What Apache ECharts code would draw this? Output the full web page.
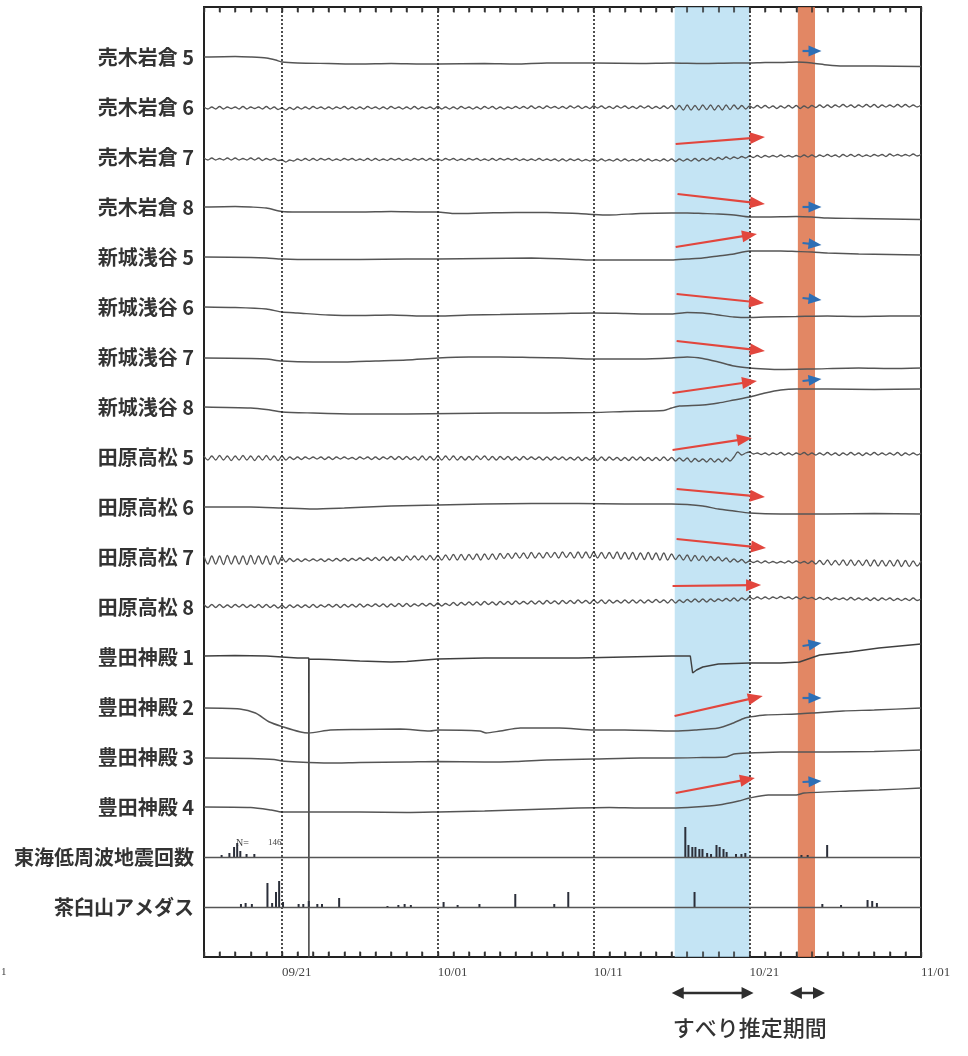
<!DOCTYPE html>
<html><head><meta charset="utf-8">
<script src="https://cdn.jsdelivr.net/npm/echarts@6/dist/echarts.min.js"></script>
<style>html,body{margin:0;padding:0;background:#fff}#c{width:968px;height:1056px}</style>
</head><body><div id="c"></div>
<script>
// ---------- categories / ticks ----------
const rowNames = ['売木岩倉 5','売木岩倉 6','売木岩倉 7','売木岩倉 8','新城浅谷 5','新城浅谷 6','新城浅谷 7','新城浅谷 8','田原高松 5','田原高松 6','田原高松 7','田原高松 8','豊田神殿 1','豊田神殿 2','豊田神殿 3','豊田神殿 4','東海低周波地震回数','茶臼山アメダス'];
const tickDays = [5, 15, 25, 35, 46];            // days since 09/16
const tickLabels = ['09/21', '10/01', '10/11', '10/21', '11/01'];
const gridDays = [5, 15, 25, 35];                // dotted lines
const blueBand = [30.2, 35.0];
const orangeBand = [38.1, 39.2];

// ---------- smooth traces: [day, deflection (down +)] ----------
const ugi5 = [[0,0],[2,-0.5],[3,0],[4,1],[4.6,3],[5,5],[6,6],[8,6.5],[10,7],[12,6.5],[14,7],[15,7],[18,6.5],[20,7],[22,6],[25,6],[28,6.5],[30,6],[32,6.5],[34,6],[35,6],[36,5.5],[37,5.5],[38,5],[39,6],[40,8],[41,9],[43,9],[46,9.5]];
const ugi8 = [[0,0],[2,-0.5],[3,0],[4,1],[5,4.5],[6,5],[8,5],[10,5],[12,4.5],[14,5],[15,5],[16,6.5],[18,6],[20,5.5],[22,5.5],[24,6.5],[25,7.5],[26,8],[28,6.5],[30,6],[31,6],[32,6.5],[33,7],[34,8],[35,10],[36,10],[38,9.5],[39,10],[40,11],[42,11.5],[44,12],[46,12.5]];
const shin5 = [[0,0],[3,0.5],[4,1],[5,2],[7,2.5],[10,2.5],[13,2],[15,2],[18,1.5],[21,1],[24,2.5],[25,3],[28,3],[30,3],[31,2],[32,1],[33,-1],[34,-3],[35,-6],[37,-6],[38,-5.5],[39,-5],[40,-4],[42,-3],[44,-2.5],[46,-2]];
const shin6 = [[0,0],[2,0.5],[4,2],[5,5],[6,6],[8,8],[10,8.5],[12,8],[14,9],[15,9],[17,8],[19,7.5],[21,7],[23,6.5],[25,6],[27,6.5],[29,7],[30,7],[31,5.5],[32,6],[33,8],[34,10],[35,10.5],[36,10],[38,9.5],[40,9],[42,9.5],[44,9],[46,9]];
const shin7 = [[0,1],[3,1.5],[4,2],[5,4],[7,5],[9,5],[11,4],[13,3],[15,1],[17,0],[19,0],[21,0.5],[23,1],[25,2],[28,2],[30,1],[31,0],[32,1.5],[33,5],[34,9],[35,11],[36,12],[37,12.5],[39,12],[42,11],[44,11.5],[46,11]];
const shin8 = [[0,0],[3,1],[4,2.5],[5,5],[7,6],[10,7],[13,7],[16,6.5],[19,6],[22,6],[25,5.5],[27,4.5],[29.5,3.5],[30,1],[30.5,-1],[32,-2],[33,-4],[34,-7],[35,-10],[36,-14],[37,-17],[38,-18],[40,-18],[43,-17.5],[46,-18]];
const taha6 = [[0,0],[3,0],[5,1],[7,2],[9,1],[12,-1],[15,-2],[18,-3],[21,-3.5],[24,-3.5],[27,-3],[30,-3],[31,-2.5],[32,-1],[33,2],[34,4],[35,6],[37,7],[40,7],[43,6.5],[46,7]];
const toyo1 = [[0,-1],[2,-1.5],[4,-1],[5,0],[6,1],[6.72,1],[6.73,400],[6.74,2],[8,2.5],[10,4],[12,5],[13,4.5],[15,2],[18,1],[21,1],[24,1],[27,0],[30,-1],[31.2,-1],[31.35,16],[31.6,13],[32,10],[33,7],[35,6],[37,6],[38.2,5],[39.5,-2],[41.4,-5],[43.3,-9],[46,-13]];
const toyo2 = [[0,1],[2.3,2],[3.3,6],[4.2,15],[5.1,20],[6.2,25],[6.7,26],[8.1,23],[10,22.5],[12.6,22],[14.5,24],[15,23],[17.7,24],[18.1,26],[19,24],[20.3,21],[22.8,21],[25,23],[27,23],[30.2,24],[31.5,23],[33,21],[33.8,17],[34.7,11],[35,10],[36,8],[38,7],[39,6],[41,4],[43,3],[46,1]];
const toyo3 = [[0,1],[3,1.5],[4.5,2.5],[5,4],[6,5],[8,6],[10,5.5],[13,5],[15,4.5],[18,5],[20,4.5],[22,3],[25,2],[28,1],[30,1],[32,0.5],[33.5,0],[34,-3],[35,-4],[37,-5],[40,-5],[43,-5.5],[46,-7]];
const toyo4 = [[0,0],[3,0.5],[4.3,3],[5,5],[7,5],[10,5],[13,5.5],[15,5],[18,4],[21,2.5],[24,1],[26,0.5],[28,1],[30,1],[31.5,0],[33,-2],[34.3,-6],[35,-9],[36.2,-12],[38,-12],[38.5,-14],[41.4,-16],[43.3,-17],[46,-19]];

// ---------- tidal (wavy) traces, every 6 hours from 09/16 ----------
const ugi6 = [0,2,0,2, -0.5,2,0,1.5, 0,2,-0.5,2, 0,1.5,0,2, -0.5,2,0,2.5, 1,3,0.5,2.5, 0,2,0,2, -0.5,1.5,0,2, 0,2,0,1.5, -0.5,2,0,2,
 0,2,-0.5,1.5, 0,2,0,2, -0.5,1.5,0,2, 0,2,-0.5,2, 0,1.5,0,2, -0.5,2,0,2, 0,2,-0.5,1.5, 0,2,0,2, -0.5,1.5,-0.5,2, 0,2,0,1.5,
 -0.5,1.5,-0.5,1.5, -1,1.5,-0.5,1.5, -1,1,-0.5,1.5, -0.5,1.5,-1,1, -1,1.5,-0.5,1.5, -1,1,-1,1.5, -0.5,1.5,-1,1, -1,1.5,-0.5,1.5, -1,1,-1,1.5, -0.5,1.5,-1,1.5,
 -1.5,2.5,-1.5,3, -2,3,-1.5,3, -2,2.5,-2,3, -1.5,3,-2,2.5, -2,2,-1.5,2, -1,1,-1.5,1, -1.5,1,-1,1.5, -1,1,-1.5,1, -1.5,1.5,-1,1, -1.5,0.5,-2,0.5,
 -2,0.5,-2,0, -2.5,0,-2,0.5, -2,0,-2.5,0, -2.5,0.5,-2,0, -2,0,-2.5,0, -2.5,0,-2,0, -2];
const ugi7 = [1,3,1,3, 1.5,3,1,3, 1,3,1.5,3, 1,3,1,3.5, 1.5,3,1.5,3.5, 3,5,3,4, 2,3.5,1.5,3.5, 1.5,3.5,1.5,3, 1.5,3.5,2,3.5, 1.5,3,1.5,3.5,
 2,3.5,1.5,3.5, 1.5,3.5,2,3.5, 1.5,3,1.5,3.5, 2,3.5,1.5,3, 1.5,3.5,1.5,3.5, 2,3.5,1.5,3, 1.5,3.5,2,3.5, 1.5,3,1.5,3.5, 2,3.5,1.5,3.5, 1.5,3,1.5,3,
 1.5,3.5,2,3.5, 2,3.5,1.5,3.5, 2,3.5,2,4, 2,4,2,3.5, 2,4,2.5,4, 2,4,2,4, 2.5,4,2,4, 2,4,2.5,4, 2,4,2,4, 2.5,4,2,4,
 2,4.5,2,4, 2,4,1.5,4, 1.5,3.5,1,3, 0.5,2.5,0,2, 0,1.5,-0.5,1, -1,0.5,-1.5,0.5, -1.5,0,-1.5,0, -2,0,-1.5,0, -1.5,0,-2,0, -2,0,-2,-0.5,
 -2.5,-0.5,-2,0, -2.5,-0.5,-2.5,-0.5, -2.5,-0.5,-2,-0.5, -2.5,-1,-2.5,-0.5, -3,-1,-2.5,-1, -2.5,-1,-3,-1, -2.5];
const taha5 = [-1,3,-1,3, -1.5,3,-1,3.5, -1,3,-1.5,3, -1,3.5,-1,3, -1.5,3,-1,3.5, -1,3,0,2.5, 0,2.5,0,2, 0,2,0,2.5, 0,2.5,0,2, 0,2,0.5,2.5,
 0,2,0,2.5, 0,2.5,0,2, -0.5,2.5,-0.5,2.5, -0.5,2.5,0,3, -1,3,-0.5,3, -1,3,-1,3, -1,3,-0.5,3, -0.5,3,-1,2.5, -1,3,-0.5,3, -0.5,2.5,-0.5,3,
 0,3,-0.5,2.5, 0,2.5,0,3, 0,3,0,2.5, 0,3,0.5,3, 0,3.5,0.5,3, 0.5,3.5,0,3.5, 0,3,0.5,3.5, 0.5,3.5,0,3, 0,3.5,0.5,3.5, 0.5,3.5,0,3.5,
 0.5,4,1,4, 1,5,1.5,4.5, 2,5,1.5,5, 2,5,1,4, 0,-5,-2,-4, -5,-3,-4,-2.5, -4,-2,-4,-2.5, -4.5,-2,-4,-2, -4,-2.5,-4.5,-2, -4,-2,-4,-2,
 -4.5,-2,-4,-1.5, -4,-2,-4.5,-2, -4,-1.5,-4,-2, -4.5,-2,-4,-2, -4,-2,-4.5,-1.5, -4,-2,-4,-2, -4];
const taha7 = [-1,7,-1,7, -1,7.5,-1.5,7, -1,7,-1,7.5, -1.5,7,-1,7, -1,7.5,-1,7, 0,5,1.5,4.5, 2,4.5,2,4, 2,4,2,4.5, 2,4,1.5,4, 1.5,4,1.5,3.5,
 1,3.5,1,3.5, 0.5,3.5,0,3.5, 0,3.5,0,3.5, -1,3,-1,3, -1,3,-1.5,3, -1.5,3,-2,3, -2.5,3,-2.5,3, -2.5,2.5,-3,3, -3,2.5,-3,2.5, -3.5,1.5,-3.5,1.5,
 -4,1,-4,1.5, -4.5,1,-4,1, -4.5,0.5,-4.5,1, -5,0.5,-4.5,1, -5,1,-5,1, -5,1,-4.5,1.5, -4.5,1.5,-5,2, -4.5,2,-4.5,2.5, -4,2.5,-4.5,2.5, -4,3,-4,3,
 -3,2.5,-2,3, -2,4,-1.5,3.5, -1,4,-0.5,3.5, 0,4,1,5, 2,5,2.5,6, 4,5.5,4,6, 4,6,4.5,6, 4.5,6,4,6, 4,6,4.5,6.5, 4,7,3.5,7.5,
 3,8,3.5,8, 3,8.5,3,8.5, 3.5,8.5,3,9, 3,9,3.5,9, 3.5,9,3,9.5, 3.5,9.5,4,9, 4];
const taha8 = [-2.5,0.5,-2.5,0.5, -2.5,0.5,-2,0.5, -2.5,0,-2.5,0.5, -2,0.5,-2.5,0.5, -2.5,0.5,-2,1, -1.5,1,-2,0.5, -2,0.5,-2,0.5, -2.5,0.5,-2,0, -2.5,0,-2.5,0.5, -2.5,0,-2.5,0,
 -3,0,-2.5,-0.5, -3,-0.5,-3,0, -3,-0.5,-3.5,-0.5, -3.5,-0.5,-3,-1, -3.5,-1,-3.5,-1, -4,-1,-3.5,-1.5, -4.5,-1.5,-4.5,-2, -5,-2,-5,-2, -5.5,-2.5,-5,-2, -5.5,-2.5,-5.5,-2.5,
 -6,-3,-5.5,-3, -6,-3,-6,-3, -6.5,-3.5,-6,-3, -6.5,-3.5,-6.5,-3.5, -7,-4,-6.5,-3.5, -7,-4,-7,-3.5, -7,-4,-6.5,-4, -7,-4,-7,-4, -7,-4,-7,-4.5, -7.5,-4.5,-7,-4,
 -7.5,-4,-7,-4.5, -7.5,-5,-8,-5, -8,-5,-8,-5.5, -8,-6,-8.5,-6, -9,-6,-9,-7, -10,-8,-10,-8, -10,-8,-10,-8.5, -10.5,-8.5,-10,-8, -10,-8,-10,-8.5, -9.5,-7.5,-9.5,-7.5,
 -9.5,-7,-9,-7.5, -9,-7,-9.5,-7, -9,-7,-9,-6.5, -9,-6.5,-9,-7, -9,-6.5,-8.5,-6.5, -8.5,-6.5,-9,-6.5, -8];

// ---------- event counts / rainfall ----------
const lfeDays   = [1.2,1.7,2.0,2.2,2.4,2.8,3.3, 30.95,31.15,31.4,31.6,31.85,32.05,32.35,32.6,32.95,33.15,33.4,33.6,34.2,34.55,34.8, 38.4,38.8,40.05];
const lfeCounts = [2,4,10,14,6,3,3, 30,12,10,10,8,8,4,3,12,10,8,5,3,3,4, 2,2,12];
const rainDays   = [2.3,2.6,3.0,4.0,4.3,4.55,4.75,5.0,6.0,6.3,6.65,7.2,7.5,8.6,11.7,12.4,12.8,13.2,15.3,16.2,17.6,19.9,22.4,23.3,31.4,39.6,40.8,42.5,42.8,43.1];
const rainAmounts = [3,4,3,24,4,15,26,5,3,3,6,3,3,9,1,2,3,2,5,2,3,13,3,15,15,3,2,7,6,4];

// ---------- annotation arrows [day1, row1, day2, row2] ----------
const redArrows = [[30.26,1.74,35.96,1.60],[30.38,2.74,35.96,2.94],[30.26,3.80,35.45,3.54],[30.32,4.74,35.90,4.92],[30.32,5.68,35.96,5.88],[30.06,6.72,35.45,6.48],[30.06,7.86,35.13,7.62],[30.32,8.64,35.96,8.80],[30.32,9.64,36.03,9.82],[30.06,10.58,35.71,10.56],[30.19,13.18,35.83,12.78],[30.26,14.72,35.32,14.42]];
const blueArrows = [[38.4,-0.12,39.6,-0.12],[38.4,3.0,39.6,3.0],[38.4,3.72,39.6,3.76],[38.4,4.82,39.6,4.86],[38.4,6.48,39.6,6.44],[38.4,11.78,39.6,11.72],[38.4,12.82,39.6,12.82],[38.4,14.5,39.6,14.48]];

// ---------- build ----------
const SPAN = 50; // deflection units per row
const X_MIN = 0, X_MAX = 46, Y_MIN = -1, Y_MAX = 18;
const pairTraces = {0: ugi5, 3: ugi8, 4: shin5, 5: shin6, 6: shin7, 7: shin8, 9: taha6, 12: toyo1, 13: toyo2, 14: toyo3, 15: toyo4};
const tideTraces = {1: ugi6, 2: ugi7, 8: taha5, 10: taha7, 11: taha8};
const traceColor = '#555';
const series = [];
Object.keys(pairTraces).forEach(k => {
  const r = +k;
  series.push({type:'line', xAxisIndex:0, yAxisIndex:0, z:2, symbol:'none', clip:true, smooth: r === 12 ? false : 0.25,
    lineStyle:{color: r === 12 ? '#404040' : traceColor, width:1.45}, data: pairTraces[k].map(p => [p[0], r + p[1]/SPAN])});
});
Object.keys(tideTraces).forEach(k => {
  const r = +k;
  series.push({type:'line', xAxisIndex:0, yAxisIndex:0, z:2, symbol:'none', clip:true, smooth:0.35,
    lineStyle:{color:traceColor, width:1.3}, data: tideTraces[k].map((v,i) => [i/4, r + v/SPAN])});
});
// bands + dotted day lines
series.push({type:'line', xAxisIndex:0, yAxisIndex:0, z:3, data:[], silent:true,
  markArea:{silent:true, data:[
    [{xAxis:blueBand[0], itemStyle:{color:'rgba(180,220,241,0.78)'}}, {xAxis:blueBand[1]}],
    [{xAxis:orangeBand[0], itemStyle:{color:'rgba(222,118,78,0.88)'}}, {xAxis:orangeBand[1]}]
  ]}});
series.push({type:'line', xAxisIndex:0, yAxisIndex:0, z:5, data:[], silent:true,
  markLine:{silent:true, symbol:'none', label:{show:false},
    lineStyle:{color:'#222', width:1.6, type:[2,2]}, data: gridDays.map(d => ({xAxis:d}))}});
// inward day ticks on top and bottom frame (one per day)
const tickSegs = [];
for (let d = X_MIN; d <= X_MAX; d++) {
  tickSegs.push([{coord:[d, Y_MIN]}, {coord:[d, Y_MIN + 0.11]}]);
  tickSegs.push([{coord:[d, Y_MAX]}, {coord:[d, Y_MAX - 0.11]}]);
}
series.push({type:'line', xAxisIndex:0, yAxisIndex:0, z:7, data:[], silent:true,
  markLine:{silent:true, symbol:'none', label:{show:false},
    lineStyle:{color:'#333', width:1.5, type:'solid'}, data: tickSegs}});
// bars
series.push({type:'bar', xAxisIndex:0, yAxisIndex:1, z:4, barWidth:2, itemStyle:{color:'#2b2f3a'},
  data: lfeDays.map((d,i) => [d, lfeCounts[i]]),
  markLine:{silent:true, symbol:'none', label:{show:false}, lineStyle:{color:'#555', width:1.4, type:'solid'}, data:[{yAxis:0}]}});
series.push({type:'bar', xAxisIndex:0, yAxisIndex:2, z:4, barWidth:2, itemStyle:{color:'#2b2f3a'},
  data: rainDays.map((d,i) => [d, rainAmounts[i]]),
  markLine:{silent:true, symbol:'none', label:{show:false}, lineStyle:{color:'#555', width:1.4, type:'solid'}, data:[{yAxis:0}]}});
// arrows
const arrowData = (arr, back) => arr.map(a => {
  const dd = a[2]-a[0], dv = a[3]-a[1];
  return [{coord:[a[0], a[1]]}, {coord:[a[2]-back, a[3]-dv/dd*back]}];
});
series.push({type:'line', xAxisIndex:0, yAxisIndex:0, z:6, data:[], silent:true,
  markLine:{silent:true, symbol:['none','triangle'], symbolSize:[12,15], label:{show:false},
    lineStyle:{color:'#e2463d', width:2.2, type:'solid'}, data: arrowData(redArrows, 0.45)}});
series.push({type:'line', xAxisIndex:0, yAxisIndex:0, z:6, data:[], silent:true,
  markLine:{silent:true, symbol:['none','triangle'], symbolSize:[11,13], label:{show:false},
    lineStyle:{color:'#2d6fb6', width:2.2, type:'solid'}, data: arrowData(blueArrows, 0.4)}});

const chart = echarts.init(document.getElementById('c'), null, {renderer:'canvas'});
const GRID = {left:204, right:47, top:7, height:950};
chart.setOption({
  animation:false,
  backgroundColor:'#fff',
  grid: Object.assign({show:true, borderColor:'#222', borderWidth:2, backgroundColor:'transparent'}, GRID),
  xAxis:[
    {type:'value', min:X_MIN, max:X_MAX, interval:1, position:'bottom',
      axisLine:{show:true, onZero:false, lineStyle:{color:'#222', width:2}},
      axisTick:{show:true, inside:true, length:5, lineStyle:{color:'#333', width:1.4}},
      splitLine:{show:false},
      axisLabel:{show:true, showMinLabel:true, showMaxLabel:true, margin:9, align:'left', color:'#444', fontFamily:'Liberation Serif', fontSize:13,
        formatter: v => { const i = tickDays.indexOf(Math.round(v)); return (i >= 0 && Math.abs(v - tickDays[i]) < 1e-6) ? tickLabels[i] : ''; }}},
    {type:'value', min:X_MIN, max:X_MAX, interval:1, position:'top',
      axisLine:{show:true, onZero:false, lineStyle:{color:'#222', width:2}},
      axisTick:{show:true, inside:true, length:5, lineStyle:{color:'#333', width:1.4}},
      splitLine:{show:false}, axisLabel:{show:false}}
  ],
  yAxis:[
    {type:'value', min:Y_MIN, max:Y_MAX, interval:1, inverse:true, position:'left',
      axisLine:{show:true, onZero:false, lineStyle:{color:'#222', width:2}}, axisTick:{show:false}, splitLine:{show:false},
      axisLabel:{show:true, margin:10, color:'#333', fontSize:20, fontWeight:'bold', fontFamily:'Noto Sans CJK JP',
        formatter: v => (v >= 0 && v < rowNames.length) ? rowNames[v] : ''}},
    {type:'value', min:-100, max:850, show:false},
    {type:'value', min:-50, max:900, show:false}
  ],
  series: series
});

// ---------- annotations outside the plot ----------
const X = d => chart.convertToPixel({xAxisIndex:0}, d);
const P = (d, v) => chart.convertToPixel({gridIndex:0}, [d, v]);
const gridBottom = GRID.top + GRID.height;
const ay = gridBottom + 36;
function dblArrow(x1, x2) {
  const hl = 12, hw = 6, c = '#2e2e2e';
  return [
    {type:'line', shape:{x1:x1+hl-2, y1:ay, x2:x2-hl+2, y2:ay}, style:{stroke:c, lineWidth:2.5}},
    {type:'polygon', shape:{points:[[x1,ay],[x1+hl,ay-hw],[x1+hl,ay+hw]]}, style:{fill:c}},
    {type:'polygon', shape:{points:[[x2,ay],[x2-hl,ay-hw],[x2-hl,ay+hw]]}, style:{fill:c}}
  ];
}
const nPos = P(2.05, 15.76);
chart.setOption({graphic: [].concat(
  dblArrow(X(blueBand[0]) - 3, X(blueBand[1]) + 4),
  dblArrow(X(orangeBand[0]) - 8, X(orangeBand[1]) + 10),
  [
    {type:'text', left: X(blueBand[0]) - 2, top: ay + 24, style:{text:'すべり推定期間', fill:'#333', font:'500 22px "Noto Sans CJK JP"'}},
    {type:'text', left: nPos[0], top: nPos[1] - 7, style:{text:'N=', fill:'#444', font:'10px "Liberation Serif"'}},
    {type:'text', left: nPos[0] + 32, top: nPos[1] - 7, style:{text:'146', fill:'#444', font:'9px "Liberation Serif"'}},
    {type:'text', left: 1, top: gridBottom + 10, style:{text:'1', fill:'#444', font:'11px "Liberation Serif"'}}
  ]
)});
</script></body></html>
